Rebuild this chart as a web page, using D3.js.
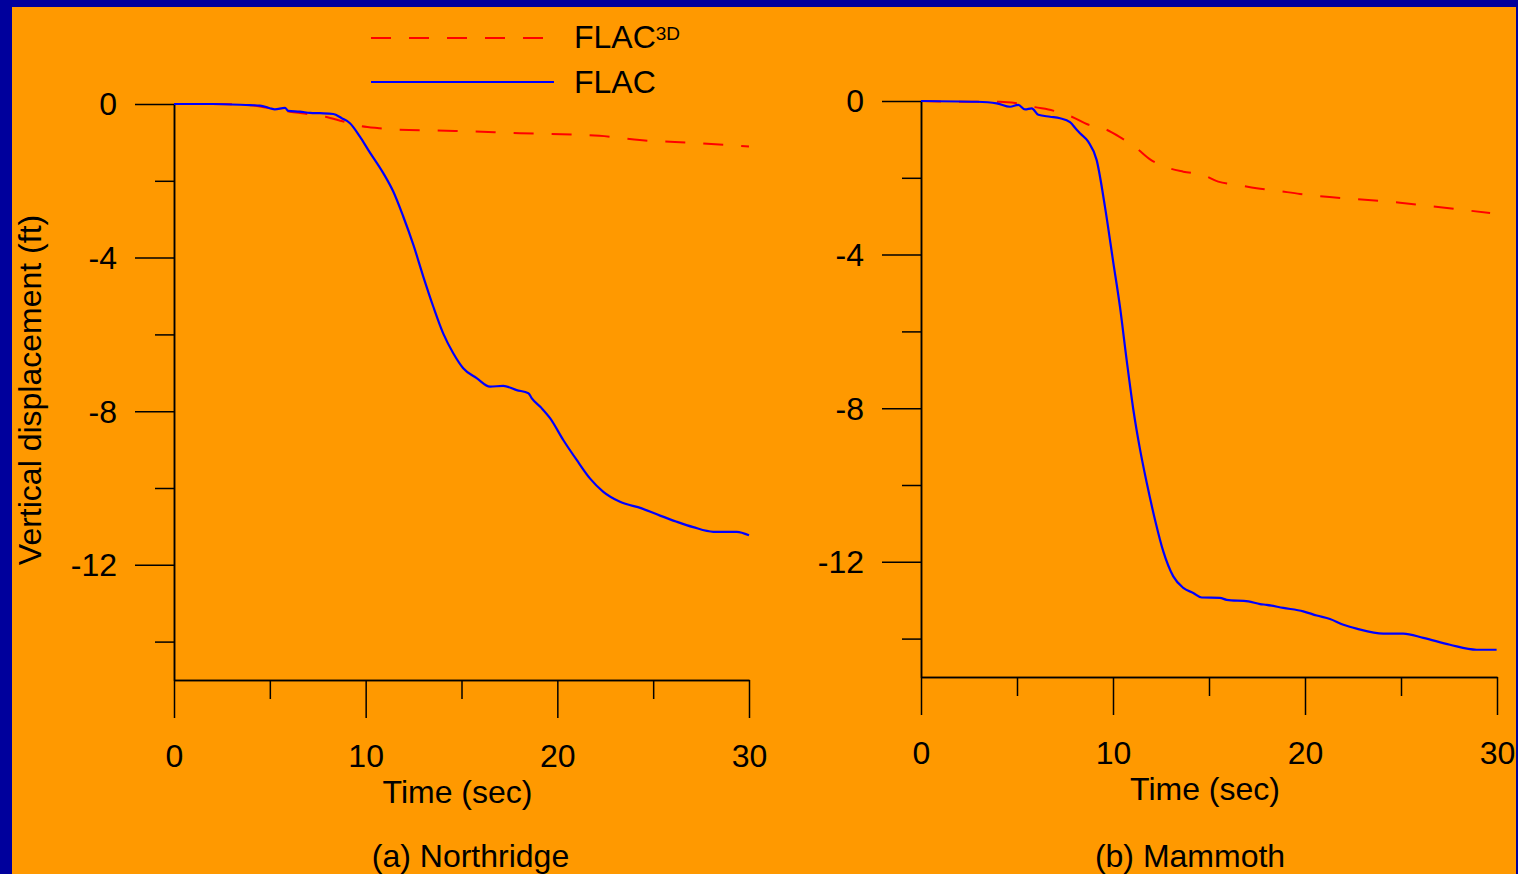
<!DOCTYPE html>
<html>
<head>
<meta charset="utf-8">
<script src="https://cdn.jsdelivr.net/npm/d3@7"></script>
<style>
  html, body { margin: 0; padding: 0; background: #00009C; }
  svg { display: block; }
  text { font-family: "Liberation Sans", Arial, sans-serif; fill: #000; }
</style>
</head>
<body>
<svg id="chart" width="1518" height="874"></svg>
<script>
// ---- Data ----
const xTicksMajor = [0, 10, 20, 30];
const xTicksMinor = [5, 15, 25];
const yTicksMajor = [0, -4, -8, -12];
const yTicksMinor = [-2, -6, -10, -14];

// (a) Northridge, [time (sec), vertical displacement (ft)]
const northridgeFLAC = [
  [0, 0], [2, 0], [3.96, -0.03], [4.49, -0.04], [5.0, -0.11], [5.26, -0.14], [5.79, -0.10],
  [5.96, -0.18], [6.57, -0.20], [7.1, -0.23], [7.62, -0.24], [8.31, -0.26], [8.75, -0.37],
  [9.18, -0.50], [9.7, -0.85], [10.14, -1.20], [10.92, -1.80], [11.44, -2.28], [11.96, -2.93],
  [12.49, -3.67], [13.01, -4.50], [13.53, -5.28], [14.05, -5.98], [14.57, -6.49], [15.09, -6.88],
  [15.79, -7.14], [16.49, -7.36], [17.18, -7.34], [17.88, -7.45], [18.49, -7.53], [18.66, -7.66],
  [19.18, -7.92], [19.62, -8.18], [20.31, -8.75], [21.01, -9.27], [21.70, -9.75], [22.40, -10.10],
  [23.27, -10.36], [24.40, -10.53], [25.36, -10.72], [26.23, -10.88], [27.09, -11.02],
  [28.14, -11.14], [29.36, -11.14], [30.0, -11.23]
];
const northridgeFLAC3D = [
  [0, 0], [2, 0], [3.96, -0.03], [5.0, -0.11], [6.05, -0.20], [6.8, -0.25], [7.9, -0.33],
  [8.8, -0.45], [9.7, -0.57], [10.7, -0.63], [11.7, -0.67], [14.66, -0.70], [18.05, -0.76],
  [22.2, -0.83], [24.3, -0.94], [27.4, -1.02], [30.0, -1.11]
];

// (b) Mammoth
const mammothFLAC = [
  [0, 0], [2.9, -0.02], [3.94, -0.06], [4.64, -0.15], [5.07, -0.10], [5.42, -0.22], [5.77, -0.19],
  [6.11, -0.36], [6.72, -0.41], [7.24, -0.45], [7.76, -0.55], [8.11, -0.75], [8.28, -0.84],
  [8.71, -1.06], [9.15, -1.54], [9.58, -2.75], [10.02, -4.22], [10.36, -5.35], [10.71, -6.74],
  [11.06, -8.04], [11.41, -9.08], [11.76, -9.95], [12.19, -10.91], [12.62, -11.73], [13.14, -12.38],
  [13.66, -12.68], [14.18, -12.81], [14.62, -12.93], [15.57, -12.94], [15.92, -12.99], [17.05, -13.03],
  [17.66, -13.10], [18.0, -13.12], [18.87, -13.20], [19.91, -13.29], [20.61, -13.40], [21.30, -13.49],
  [22.0, -13.64], [22.69, -13.74], [24.08, -13.87], [25.12, -13.87], [26.16, -13.98], [27.55, -14.16],
  [28.94, -14.29], [29.98, -14.29]
];
const mammothFLAC3D = [
  [0, 0], [2.9, -0.02], [4.11, -0.02], [4.98, -0.06], [5.94, -0.16], [6.88, -0.25], [7.85, -0.41],
  [8.63, -0.60], [9.58, -0.73], [10.36, -0.94], [11.23, -1.23], [11.93, -1.52], [12.80, -1.73],
  [13.66, -1.84], [14.70, -1.93], [15.48, -2.10], [16.53, -2.19], [17.48, -2.27], [18.44, -2.33],
  [19.74, -2.42], [24.95, -2.65], [29.64, -2.92]
];

const seriesNames = ["FLAC3D", "FLAC"];
const panelTitles = ["(a) Northridge", "(b) Mammoth"];
const xTitle = "Time (sec)";
const yTitle = "Vertical displacement (ft)";

// ---- Drawing ----
const svg = d3.select("#chart");
const FONT = 32;
const RED = "#FF0000", BLUE = "#0000FF";
const fmt = d => String(d);

svg.append("rect").attr("x", 0).attr("y", 0).attr("width", 1518).attr("height", 874).attr("fill", "#00009C");
svg.append("rect").attr("x", 12).attr("y", 7).attr("width", 1504).attr("height", 867).attr("fill", "#FF9900");

const panels = [
  { x0: 174, x1: 749, y0: 104, y1: 680, flac: northridgeFLAC, flac3d: northridgeFLAC3D, title: panelTitles[0], cap: 9 },
  { x0: 921, x1: 1497, y0: 101, y1: 677, flac: mammothFLAC, flac3d: mammothFLAC3D, title: panelTitles[1], cap: -19 }
];

panels.forEach(p => {
  const x = d3.scaleLinear().domain([0, 30]).range([p.x0, p.x1]);
  const y = d3.scaleLinear().domain([0, -15]).range([p.y0, p.y1]);
  const g = svg.append("g");

  const yMaj = g.append("g").attr("transform", `translate(${p.x0},0)`)
    .call(d3.axisLeft(y).tickValues(yTicksMajor).tickSize(39).tickSizeOuter(0).tickPadding(18).tickFormat(fmt));
  const yMin = g.append("g").attr("transform", `translate(${p.x0},0)`)
    .call(d3.axisLeft(y).tickValues(yTicksMinor).tickSize(19).tickSizeOuter(0).tickFormat(""));
  const xMaj = g.append("g").attr("transform", `translate(0,${p.y1})`)
    .call(d3.axisBottom(x).tickValues(xTicksMajor).tickSize(38).tickSizeOuter(0).tickPadding(26).tickFormat(fmt));
  const xMin = g.append("g").attr("transform", `translate(0,${p.y1})`)
    .call(d3.axisBottom(x).tickValues(xTicksMinor).tickSize(19).tickSizeOuter(0).tickFormat(""));

  [yMaj, yMin, xMaj, xMin].forEach(a => {
    a.selectAll("path.domain").attr("stroke", "#000").attr("stroke-width", 1.5);
    a.selectAll(".tick line").attr("stroke", "#000").attr("stroke-width", 1.5);
    a.selectAll(".tick text").style("font-size", FONT + "px").attr("fill", "#000")
      .style("font-family", '"Liberation Sans", Arial, sans-serif');
  });
  yMaj.selectAll(".tick text").attr("dy", "0.34em");

  const line = d3.line().x(d => x(d[0])).y(d => y(d[1])).curve(d3.curveMonotoneX);
  g.append("path").datum(p.flac3d).attr("d", line).attr("fill", "none")
    .attr("stroke", RED).attr("stroke-width", 2).attr("stroke-dasharray", "20 18");
  g.append("path").datum(p.flac).attr("d", line).attr("fill", "none")
    .attr("stroke", BLUE).attr("stroke-width", 2.2);

  g.append("text").attr("x", (p.x0 + p.x1) / 2 - 4).attr("y", p.y1 + 123)
    .attr("text-anchor", "middle").style("font-size", FONT + "px").text(xTitle);
  g.append("text").attr("x", (p.x0 + p.x1) / 2 + p.cap).attr("y", 867)
    .attr("text-anchor", "middle").style("font-size", FONT + "px").text(p.title);
});

svg.append("text").attr("transform", "translate(41,390) rotate(-90)")
  .attr("text-anchor", "middle").style("font-size", FONT + "px").text(yTitle);

// Legend
const lg = svg.append("g");
const legendY = [38, 82];
lg.append("line").attr("x1", 371).attr("x2", 548).attr("y1", legendY[0]).attr("y2", legendY[0])
  .attr("stroke", RED).attr("stroke-width", 2).attr("stroke-dasharray", "20 18");
lg.append("line").attr("x1", 371).attr("x2", 554).attr("y1", legendY[1]).attr("y2", legendY[1])
  .attr("stroke", BLUE).attr("stroke-width", 2.2);
const t1 = lg.append("text").attr("x", 574).attr("y", 48).style("font-size", FONT + "px");
t1.append("tspan").text(seriesNames[0].slice(0, 4));
t1.append("tspan").attr("dy", -8).style("font-size", "19px").text(seriesNames[0].slice(4));
lg.append("text").attr("x", 574).attr("y", 93).style("font-size", FONT + "px").text(seriesNames[1]);
</script>
</body>
</html>
